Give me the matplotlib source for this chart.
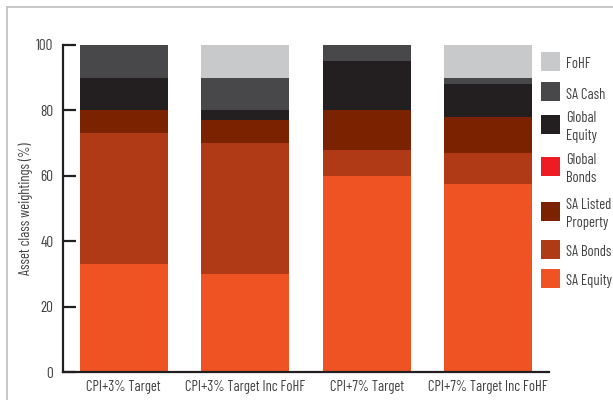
import numpy as np
import matplotlib
matplotlib.use("Agg")
import matplotlib.pyplot as plt
from matplotlib.patches import Rectangle
from matplotlib.lines import Line2D

plt.rcParams['font.family'] = ['Barlow Condensed', 'DejaVu Sans']

portfolios = ["CPI+3% Target", "CPI+3% Target Inc FoHF", "CPI+7% Target", "CPI+7% Target Inc FoHF"]

sa_equity = [33, 30, 60, 57.5]
sa_bonds = [40, 40, 8, 9.5]
sa_property = [7, 7, 12, 11]
global_bonds = [0, 0, 0, 0]
global_equity = [10, 3, 15, 10]
sa_cash = [10, 10, 5, 2]
fohf = [0, 10, 0, 10]

series = [
    ("SA Equity", sa_equity, "#ef5323"),
    ("SA Bonds", sa_bonds, "#b03a15"),
    ("SA Listed\nProperty", sa_property, "#7b2300"),
    ("Global\nBonds", global_bonds, "#ed1c24"),
    ("Global\nEquity", global_equity, "#231f20"),
    ("SA Cash", sa_cash, "#48484a"),
    ("FoHF", fohf, "#c8c9ca"),
]

txt = "#414042"
axc = "#231f20"

fig = plt.figure(figsize=(6.13, 4.0), dpi=100)
ax = fig.add_axes([0.1028, 0.07, 0.7928, 0.8175])

x = np.arange(len(portfolios))
bottom = np.zeros(len(portfolios))
for name, vals, col in series:
    ax.bar(x, vals, bottom=bottom, width=0.725, color=col, linewidth=0)
    bottom += np.array(vals)

ax.set_xlim(-0.5, 3.5)
ax.set_ylim(0, 100)
ax.set_yticks([0, 20, 40, 60, 80, 100])
ax.set_xticks(x)
ax.set_xticklabels(portfolios)
ax.tick_params(axis='y', direction='in', length=9, width=1.6, color=axc,
               labelsize=11, labelcolor=txt, pad=7)
ax.tick_params(axis='x', length=0, labelsize=10.5, labelcolor=txt, pad=6)
for s in ['top', 'right']:
    ax.spines[s].set_visible(False)
for s in ['left', 'bottom']:
    ax.spines[s].set_color(axc)
    ax.spines[s].set_linewidth(1.6)
ax.set_ylabel("Asset class weightings (%)", fontsize=10.5, color=txt, labelpad=2)

# legend drawn by hand, top to bottom
leg_y = [61, 92, 124, 166, 211, 249, 278]
for (name, vals, col), yc in zip(series[::-1], leg_y):
    fig.add_artist(Rectangle((541 / 613, 1 - (yc + 9.5) / 400), 19 / 613, 19 / 400,
                             transform=fig.transFigure, color=col, linewidth=0))
    fig.text(566 / 613, 1 - (yc + 3) / 400, name, fontsize=10.5, color=txt,
             va='center', ha='left', linespacing=1.3)

# light frame
fig.add_artist(Line2D([6.5 / 613, 6.5 / 613], [0, 1 - 6.5 / 400], transform=fig.transFigure,
                      color="#bcbdc0", linewidth=1.2))
fig.add_artist(Line2D([6.5 / 613, 1], [1 - 6.5 / 400, 1 - 6.5 / 400], transform=fig.transFigure,
                      color="#bcbdc0", linewidth=1.2))

fig.savefig("out.png", dpi=100)
